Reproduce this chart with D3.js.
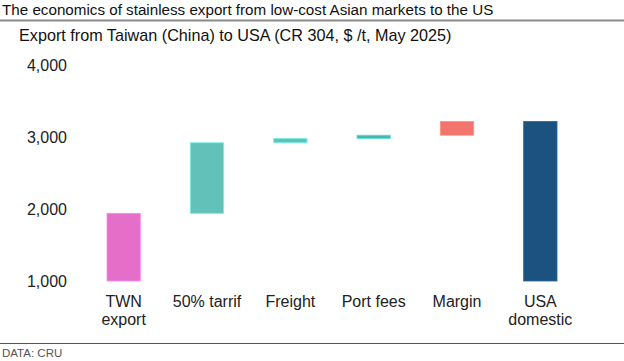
<!DOCTYPE html>
<html lang="en">

<head>
    <meta charset="utf-8">
    <title>Stainless export waterfall</title>
    <script src="https://d3js.org/d3.v7.min.js"></script>
    <style type="text/css">
        body { margin: 0; background: #fff; }
        text { font-family: "Liberation Sans", Arial, sans-serif; }
    </style>
</head>

<body>
    <script type="text/javascript">

        // data ($/t)
        var categories = ["TWN export", "50% tarrif", "Freight", "Port fees", "Margin", "USA domestic"];
        var labelLines = [["TWN", "export"], ["50% tarrif"], ["Freight"], ["Port fees"], ["Margin"], ["USA", "domestic"]];
        var steps = [1940, 980, 60, 45, 190];
        var usaTotal = 3215;
        var yTicks = [1000, 2000, 3000, 4000];
        var colors = ["#e56fc8", "#62c2ba", "#62c2ba", "#4bb4ac", "#f2746c", "#1b527f"];

        var w = 624, h = 361;

        // build start/end pairs for the waterfall
        var bars = [], run = 1000;
        steps.forEach(function (v, i) {
            var start = i == 0 ? 1000 : run;
            var end = i == 0 ? v : run + v;
            bars.push({ cat: categories[i], y0: start, y1: end });
            run = end;
        });
        bars.push({ cat: categories[5], y0: 1000, y1: usaTotal });

        var svg = d3.select("body")
            .append("svg")
            .attr("width", w)
            .attr("height", h);

        // title + rules
        svg.append("text")
            .attr("x", 2).attr("y", 15)
            .attr("font-size", "15.2px").attr("fill", "#111")
            .text("The economics of stainless export from low-cost Asian markets to the US");
        svg.append("line")
            .attr("x1", 0).attr("x2", w).attr("y1", 20.5).attr("y2", 20.5)
            .attr("stroke", "#8a8a8a").attr("stroke-width", 2);
        svg.append("text")
            .attr("x", 19).attr("y", 41)
            .attr("font-size", "16.2px").attr("fill", "#111")
            .text("Export from Taiwan (China) to USA (CR 304, $ /t, May 2025)");

        var xScale = d3.scaleBand()
            .domain(categories)
            .range([82, 582])
            .paddingInner(0.6)
            .paddingOuter(0.3);

        var yScale = d3.scaleLinear()
            .domain([1000, 4000])
            .range([281, 65]);

        // y axis, labels only
        var yAxis = svg.append("g")
            .attr("transform", "translate(67,0)")
            .call(d3.axisLeft(yScale).tickValues(yTicks).tickFormat(d3.format(",")).tickSize(0).tickPadding(0));
        yAxis.select(".domain").remove();
        yAxis.selectAll("text")
            .attr("font-size", "16px")
            .attr("font-family", "Liberation Sans, Arial, sans-serif")
            .attr("fill", "#222");

        svg.selectAll("rect.bar").data(bars)
            .enter()
            .append("rect")
            .attr("class", "bar")
            .attr("x", function (d) { return xScale(d.cat); })
            .attr("width", xScale.bandwidth())
            .attr("y", function (d) { return yScale(d.y1); })
            .attr("height", function (d) { return yScale(d.y0) - yScale(d.y1); })
            .attr("fill", function (d, i) { return colors[i]; })
            .attr("stroke", function (d, i) { return d3.color(colors[i]).brighter(0.6); })
            .attr("stroke-width", 0.8);

        // category labels
        var lab = svg.selectAll("text.cat").data(categories)
            .enter()
            .append("text")
            .attr("class", "cat")
            .attr("text-anchor", "middle")
            .attr("font-size", "16px")
            .attr("fill", "#222")
            .attr("x", function (d) { return xScale(d) + xScale.bandwidth() / 2; })
            .attr("y", 307);
        lab.selectAll("tspan")
            .data(function (d, i) { return labelLines[i]; })
            .enter()
            .append("tspan")
            .attr("x", function () { return d3.select(this.parentNode).attr("x"); })
            .attr("dy", function (d, i) { return i == 0 ? 0 : 18; })
            .text(function (d) { return d; });

        svg.append("line")
            .attr("x1", 0).attr("x2", w).attr("y1", 343.5).attr("y2", 343.5)
            .attr("stroke", "#555").attr("stroke-width", 1);
        svg.append("text")
            .attr("x", 2).attr("y", 357)
            .attr("font-size", "11.5px").attr("fill", "#555")
            .text("DATA: CRU");

    </script>
</body>

</html>
